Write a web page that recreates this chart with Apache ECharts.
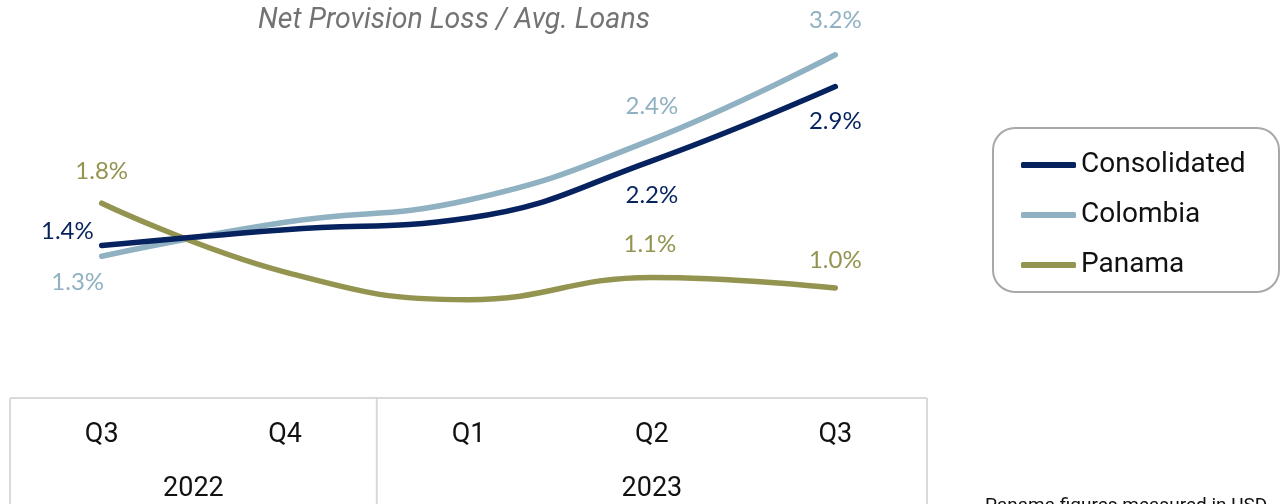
<!DOCTYPE html>
<html>
<head>
<meta charset="utf-8">
<script src="https://cdn.jsdelivr.net/npm/echarts@6/dist/echarts.min.js"></script>
<style>
  html, body { margin: 0; padding: 0; background: #ffffff; }
  #chart { width: 1280px; height: 504px; }
</style>
</head>
<body>
<div id="chart"></div>
<script>
// Quarterly net provision loss over average loans (%)
const quarters = ['Q3', 'Q4', 'Q1', 'Q2', 'Q3'];
const years = ['2022', '2023'];
const quartersPerYear = [2, 3];

const consolidated = [1.4, 1.55, 1.66, 2.2, 2.9];
const colombia = [1.3, 1.62, 1.83, 2.4, 3.2];
const panama = [1.8, 1.15, 0.89, 1.1, 1.0];

const labelledPoints = [0, 3, 4];
const footnote = 'Panama figures measured in USD';
const titleText = 'Net Provision Loss / Avg. Loans';

const NAVY = '#07235f';
const SKY = '#8fb1c2';
const OLIVE = '#949451';
const GRID_LINE = '#d9d9d9';

// label anchor relative to its point: [dx, dy] and horizontal alignment
const labelPlacement = {
  Consolidated: {
    0: { position: [-8, -14], align: 'right' },
    3: { position: [0, 34], align: 'center' },
    4: { position: [0, 35], align: 'center' }
  },
  Colombia: {
    0: { position: [-24, 26], align: 'center' },
    3: { position: [0, -33], align: 'center' },
    4: { position: [0, -35], align: 'center' }
  },
  Panama: {
    0: { position: [0, -32], align: 'center' },
    3: { position: [-2, -33], align: 'center' },
    4: { position: [0, -28], align: 'center' }
  }
};

function buildData(name, values, color) {
  return values.map((v, i) => {
    if (labelledPoints.indexOf(i) < 0) return v;
    const p = labelPlacement[name][i];
    return {
      value: v,
      label: {
        show: true,
        position: p.position,
        align: p.align,
        verticalAlign: 'middle',
        color: color,
        fontFamily: 'Lato',
        fontSize: 24,
        formatter: (d) => d.value.toFixed(1) + '%'
      }
    };
  });
}

function lineSeries(name, values, color) {
  return {
    name: name,
    type: 'line',
    data: buildData(name, values, color),
    smooth: 0.45,
    showSymbol: true,
    showAllSymbol: true,
    symbol: 'circle',
    symbolSize: 0,
    itemStyle: { color: 'rgba(0,0,0,0)', borderWidth: 0 },
    color: color,
    label: { show: false },
    labelLayout: { hideOverlap: false },
    lineStyle: { color: color, width: 5.5, cap: 'round', join: 'round' },
    emphasis: { disabled: true },
    z: name === 'Consolidated' ? 3 : 2
  };
}

const chart = echarts.init(document.getElementById('chart'), null, { renderer: 'canvas' });

chart.setOption({
  animation: false,
  backgroundColor: '#ffffff',
  grid: { left: 10, right: 353, top: 23, bottom: 110, containLabel: false, outerBoundsMode: 'none' },
  legend: {
    orient: 'vertical',
    left: 993,
    top: 128,
    padding: [22, 26, 12, 28],
    itemGap: 20,
    itemWidth: 55,
    itemHeight: 6,
    itemTextGap: 2,
    icon: 'roundRect',
    borderColor: '#a8a8a8',
    borderWidth: 2,
    borderRadius: 22,
    textStyle: { fontFamily: 'Roboto', fontSize: 28, color: '#111111', lineHeight: 30, width: 172 },
    data: [
      { name: 'Consolidated', itemStyle: { color: NAVY } },
      { name: 'Colombia', itemStyle: { color: SKY } },
      { name: 'Panama', itemStyle: { color: OLIVE } }
    ]
  },
  xAxis: {
    type: 'category',
    data: quarters,
    boundaryGap: true,
    axisLine: { show: false },
    axisTick: { show: false },
    axisLabel: { margin: 26, fontFamily: 'Roboto', fontSize: 27, color: '#111111', lineHeight: 30 },
    splitLine: { show: false }
  },
  yAxis: {
    type: 'value',
    min: 0,
    max: 3.5,
    show: false
  },
  series: [
    lineSeries('Colombia', colombia, SKY),
    lineSeries('Panama', panama, OLIVE),
    lineSeries('Consolidated', consolidated, NAVY)
  ]
});

// Table frame under the axis, year labels and text, placed through the axis scale
function drawFrame() {
  const px = quarters.map((q, i) => chart.convertToPixel({ xAxisIndex: 0 }, i));
  const band = px.length > 1 ? px[1] - px[0] : 100;
  const left = px[0] - band / 2;
  const right = px[px.length - 1] + band / 2;
  const axisY = chart.convertToPixel({ yAxisIndex: 0 }, 0) + 4;
  const bottom = 520;

  const elements = [];
  const lineStyle = { stroke: GRID_LINE, lineWidth: 2 };
  elements.push({ type: 'line', shape: { x1: left, y1: axisY, x2: right, y2: axisY }, style: lineStyle, silent: true });
  elements.push({ type: 'line', shape: { x1: left, y1: axisY, x2: left, y2: bottom }, style: lineStyle, silent: true });
  elements.push({ type: 'line', shape: { x1: right, y1: axisY, x2: right, y2: bottom }, style: lineStyle, silent: true });

  let start = 0;
  years.forEach((y, k) => {
    const n = quartersPerYear[k];
    const first = px[start];
    const last = px[start + n - 1];
    elements.push({
      type: 'text',
      style: {
        text: y, x: (first + last) / 2, y: axisY + 91,
        align: 'center', verticalAlign: 'middle',
        font: '27px Roboto', fill: '#111111'
      },
      silent: true
    });
    start += n;
    if (start < px.length) {
      const xDiv = px[start] - band / 2;
      elements.push({ type: 'line', shape: { x1: xDiv, y1: axisY, x2: xDiv, y2: bottom }, style: lineStyle, silent: true });
    }
  });

  elements.push({
    type: 'text',
    style: {
      text: titleText, x: 454, y: 21,
      align: 'center', verticalAlign: 'middle',
      font: 'italic 28.5px Roboto', fill: '#737373'
    },
    silent: true
  });

  elements.push({
    type: 'text',
    style: {
      text: footnote, x: 985, y: 497,
      align: 'left', verticalAlign: 'top',
      font: '19px Roboto', fill: '#111111'
    },
    silent: true
  });

  chart.setOption({ graphic: { elements: elements } });
}

drawFrame();
</script>
</body>
</html>
